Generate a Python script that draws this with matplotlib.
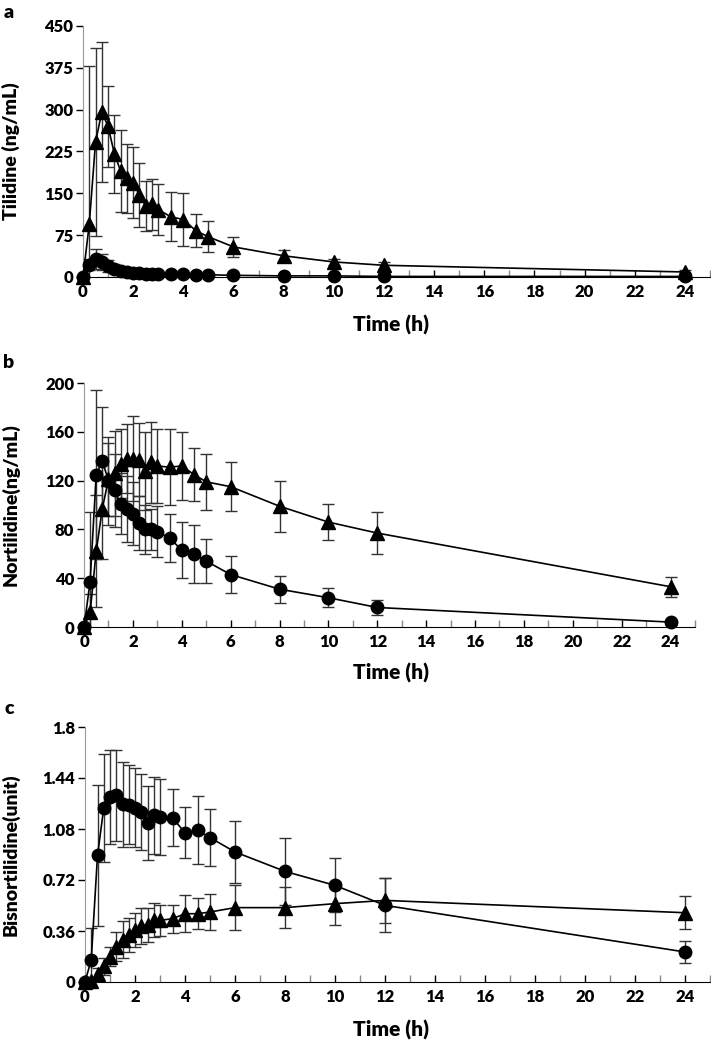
import numpy as np
import matplotlib
matplotlib.use('Agg')
import matplotlib.pyplot as plt
from matplotlib.ticker import MultipleLocator, FixedLocator

plt.rcParams['font.family'] = ['Lato', 'DejaVu Sans']
plt.rcParams['font.weight'] = 'heavy'

time_h = [0, 0.25, 0.5, 0.75, 1, 1.25, 1.5, 1.75, 2, 2.25, 2.5, 2.75, 3,
          3.5, 4, 4.5, 5, 6, 8, 10, 12, 24]

# panel a - tilidine
a_tri = [0, 95, 242, 296, 270, 221, 190, 177, 169, 147, 127, 130, 121,
         108, 103, 83, 72, 54, 38, 27, 21, 9]
a_tri_sd = [0, 283, 169, 126, 73, 70, 73, 62, 64, 58, 45, 46, 46,
            44, 47, 30, 28, 18, 10, 6, 6, 3]
a_cir = [0, 22, 33, 27, 20, 15, 11, 9, 8, 7, 6, 6, 6,
         5, 5, 4, 4, 3, 2, 2, 1, 1]
a_cir_sd = [0, 10, 18, 15, 11, 8, 6, 5, 4, 4, 3, 3, 3,
            2, 2, 2, 2, 1, 1, 1, 1, 0.5]

# panel b - nortilidine
b_tri = [0, 12, 62, 97, 121, 126, 134, 138, 138, 137, 128, 135, 132,
         131, 132, 125, 119, 115, 99, 86, 77, 33]
b_tri_sd = [0, 15, 46, 41, 30, 35, 28, 28, 35, 30, 32, 33, 30,
            31, 28, 22, 23, 20, 21, 15, 17, 8]
b_cir = [0, 37, 125, 136, 120, 112, 101, 97, 93, 85, 80, 80, 78,
         73, 63, 60, 54, 43, 31, 24, 16, 4]
b_cir_sd = [0, 57, 69, 44, 36, 30, 25, 27, 26, 22, 20, 17, 21,
            20, 23, 24, 18, 15, 11, 8, 6, 2]

# panel c - bisnortilidine
c_cir = [0, 0.158, 0.894, 1.228, 1.306, 1.318, 1.254, 1.252, 1.231, 1.2,
         1.122, 1.176, 1.165, 1.16, 1.052, 1.071, 1.019, 0.918, 0.781,
         0.682, 0.541, 0.212]
c_cir_sd = [0, 0.22, 0.5, 0.38, 0.33, 0.32, 0.3, 0.28, 0.28, 0.27, 0.26,
            0.27, 0.27, 0.2, 0.18, 0.24, 0.2, 0.22, 0.235, 0.19, 0.19, 0.08]
c_tri = [0, 0.01, 0.06, 0.11, 0.18, 0.25, 0.3, 0.33, 0.365, 0.395, 0.405,
         0.44, 0.435, 0.447, 0.482, 0.482, 0.494, 0.525, 0.525, 0.553,
         0.576, 0.489]
c_tri_sd = [0, 0.02, 0.04, 0.06, 0.07, 0.1, 0.13, 0.12, 0.12, 0.13, 0.12,
            0.12, 0.11, 0.1, 0.13, 0.11, 0.13, 0.16, 0.145, 0.15, 0.16, 0.115]

W, H = 711, 1041
fig = plt.figure(figsize=(W / 100, H / 100), dpi=100)


def add_panel(left, right, top, bottom):
    return fig.add_axes([left / W, 1 - bottom / H, (right - left) / W, (bottom - top) / H])


def draw_series(ax, y, sd, marker, ms):
    ax.errorbar(time_h, y, yerr=sd, fmt='none', ecolor='#333333',
                elinewidth=1.0, capsize=4, capthick=1.0, zorder=2)
    ax.plot(time_h, y, color='black', lw=1.2, marker=marker, ms=ms,
            mfc='black', mec='black', clip_on=False, zorder=3)


def style_axes(ax, ymax, yticks, ylabels, ylabel, left_px, width_px, letter, letter_y, time_y):
    ax.set_xlim(0, 25)
    ax.set_ylim(0, ymax)
    for s in ['top', 'right']:
        ax.spines[s].set_visible(False)
    ax.spines['left'].set_color('#999999')
    ax.spines['bottom'].set_color('black')
    ax.xaxis.set_major_locator(FixedLocator(np.arange(0, 25, 2)))
    ax.xaxis.set_minor_locator(MultipleLocator(1))
    ax.tick_params(axis='x', which='both', direction='in', length=5, width=1,
                   labelsize=12, pad=5)
    ax.tick_params(axis='x', which='minor', color='#888888')
    ax.set_yticks(yticks)
    ax.set_yticklabels(ylabels)
    ax.tick_params(axis='y', direction='out', length=5, width=1, labelsize=12, pad=2)
    ax.set_ylabel(ylabel, fontsize=14, fontweight='heavy')
    ax.yaxis.set_label_coords((20 - left_px) / width_px, 0.5)
    for lab in ax.get_xticklabels() + ax.get_yticklabels():
        lab.set_fontweight('heavy')
    fig.text(9 / W, 1 - letter_y / H, letter, fontsize=14, fontweight='heavy',
             ha='center', va='center')
    fig.text(391 / W, 1 - time_y / H, 'Time (h)', fontsize=15, fontweight='heavy',
             ha='center', va='center')


ax_a = add_panel(83, 710, 26, 277)
draw_series(ax_a, a_tri, a_tri_sd, '^', 9.5)
draw_series(ax_a, a_cir, a_cir_sd, 'o', 9)
style_axes(ax_a, 450, [0, 75, 150, 225, 300, 375, 450],
           ['0', '75', '150', '225', '300', '375', '450'],
           'Tilidine (ng/mL)', 83, 627, 'a', 12, 325)

ax_b = add_panel(84, 695, 383, 627)
draw_series(ax_b, b_tri, b_tri_sd, '^', 9.5)
draw_series(ax_b, b_cir, b_cir_sd, 'o', 9)
style_axes(ax_b, 200, [0, 40, 80, 120, 160, 200],
           ['0', '40', '80', '120', '160', '200'],
           'Nortilidine(ng/mL)', 84, 611, 'b', 363, 673)

ax_c = add_panel(85, 710, 727, 982)
draw_series(ax_c, c_tri, c_tri_sd, '^', 9.5)
draw_series(ax_c, c_cir, c_cir_sd, 'o', 9)
style_axes(ax_c, 1.8, [0, 0.36, 0.72, 1.08, 1.44, 1.8],
           ['0', '0.36', '0.72', '1.08', '1.44', '1.8'],
           'Bisnortilidine(unit)', 85, 625, 'c', 708, 1030)

fig.savefig('out.png', dpi=100)
